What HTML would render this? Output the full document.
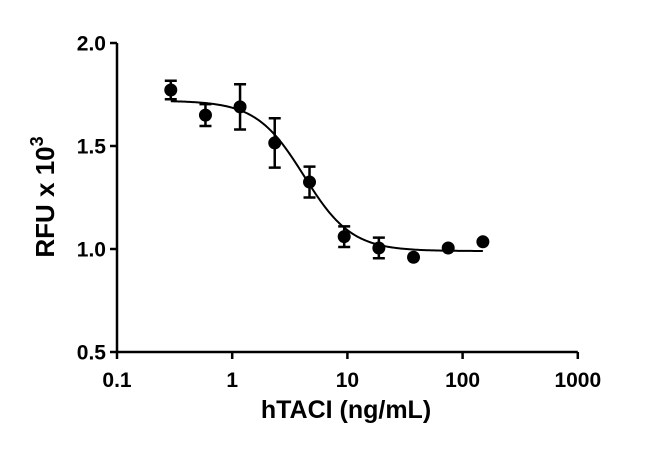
<!DOCTYPE html>
<html><head><meta charset="utf-8"><style>
html,body{margin:0;padding:0;background:#fff;}
svg{display:block;font-family:"Liberation Sans",Arial,sans-serif;font-weight:bold;}
</style></head><body>
<svg id="chart" width="650" height="451" viewBox="0 0 650 451" xmlns="http://www.w3.org/2000/svg">
<g id="axes"></g>
<g id="marks"></g>
<text x="346" y="418" font-size="25" text-anchor="middle">hTACI (ng/mL)</text>
<text transform="translate(54,197) rotate(-90)" font-size="26" text-anchor="middle">RFU x 10<tspan dy="-11" font-size="18">3</tspan></text>
</svg>
<script>
const concentrations = [0.293, 0.586, 1.17, 2.34, 4.69, 9.38, 18.75, 37.5, 75, 150];
const rfuValues = [1.772, 1.65, 1.69, 1.515, 1.325, 1.06, 1.005, 0.96, 1.005, 1.035];
const rfuErrors = [0.045, 0.053, 0.11, 0.12, 0.075, 0.05, 0.05, 0, 0, 0];
const xTicks = [0.1, 1, 10, 100, 1000];
const xTickLabels = ["0.1", "1", "10", "100", "1000"];
const yTicks = [0.5, 1.0, 1.5, 2.0];
const yTickLabels = ["0.5", "1.0", "1.5", "2.0"];
const fitTop = 1.72, fitBottom = 0.99, fitEC50 = 4.2, fitHill = 2.1;

const NS = "http://www.w3.org/2000/svg";
const X0 = 117, DEC = 115.2, YB = 352, YT = 43;
function sx(v){ return X0 + (Math.log10(v) + 1) * DEC; }
function sy(v){ return YB - (v - 0.5) / 1.5 * (YB - YT); }
function mk(tag, attrs, parent){
  const e = document.createElementNS(NS, tag);
  for (const k in attrs) e.setAttribute(k, attrs[k]);
  parent.appendChild(e); return e;
}
const axes = document.getElementById('axes');
const marks = document.getElementById('marks');

let el = mk('line', {x1:X0, y1:YT, x2:X0, y2:YB, stroke:'#000', 'stroke-width':2.5}, axes);


el = mk('line', {x1:X0-1, y1:YB, x2:sx(1000), y2:YB, stroke:'#000', 'stroke-width':2.5}, axes);



yTicks.forEach((t,i)=>{
  const y = sy(t);
  let tk = mk('line', {x1:X0-7, y1:y, x2:X0, y2:y, stroke:'#000', 'stroke-width':2.5}, axes);
  
  
  let lb = mk('text', {x:X0-11, y:y+7.5, 'font-size':21, 'text-anchor':'end'}, axes);
  lb.textContent = yTickLabels[i];
  
  
});
xTicks.forEach((t,i)=>{
  const x = sx(t);
  let tk = mk('line', {x1:x, y1:YB, x2:x, y2:YB+7, stroke:'#000', 'stroke-width':2.5}, axes);
  
  
  let lb = mk('text', {x:x, y:YB+35, 'font-size':21, 'text-anchor':'middle'}, axes);
  lb.textContent = xTickLabels[i];
  
  
});

let d = '';
const lo = Math.log10(concentrations[0]), hi = Math.log10(concentrations[concentrations.length-1]);
for (let i=0;i<=200;i++){
  const lx = lo + (hi-lo)*i/200, c = Math.pow(10,lx);
  const v = fitBottom + (fitTop-fitBottom)/(1+Math.pow(c/fitEC50, fitHill));
  d += (i?'L':'M') + sx(c).toFixed(2) + ' ' + sy(v).toFixed(2);
}
el = mk('path', {d:d, fill:'none', stroke:'#000', 'stroke-width':2}, marks);



concentrations.forEach((c,i)=>{
  const x = sx(c), y = sy(rfuValues[i]), e = rfuErrors[i];
  if (e > 0){
    const y1 = sy(rfuValues[i]+e), y2 = sy(rfuValues[i]-e);
    let g = mk('path', {d:`M${x} ${y1}V${y2}M${x-6} ${y1}H${x+6}M${x-6} ${y2}H${x+6}`, stroke:'#000', 'stroke-width':2.5, fill:'none'}, marks);
    
    
  }
  let p = mk('circle', {cx:x, cy:y, r:6.5, fill:'#000'}, marks);
  
  
});
</script>
</body></html>
